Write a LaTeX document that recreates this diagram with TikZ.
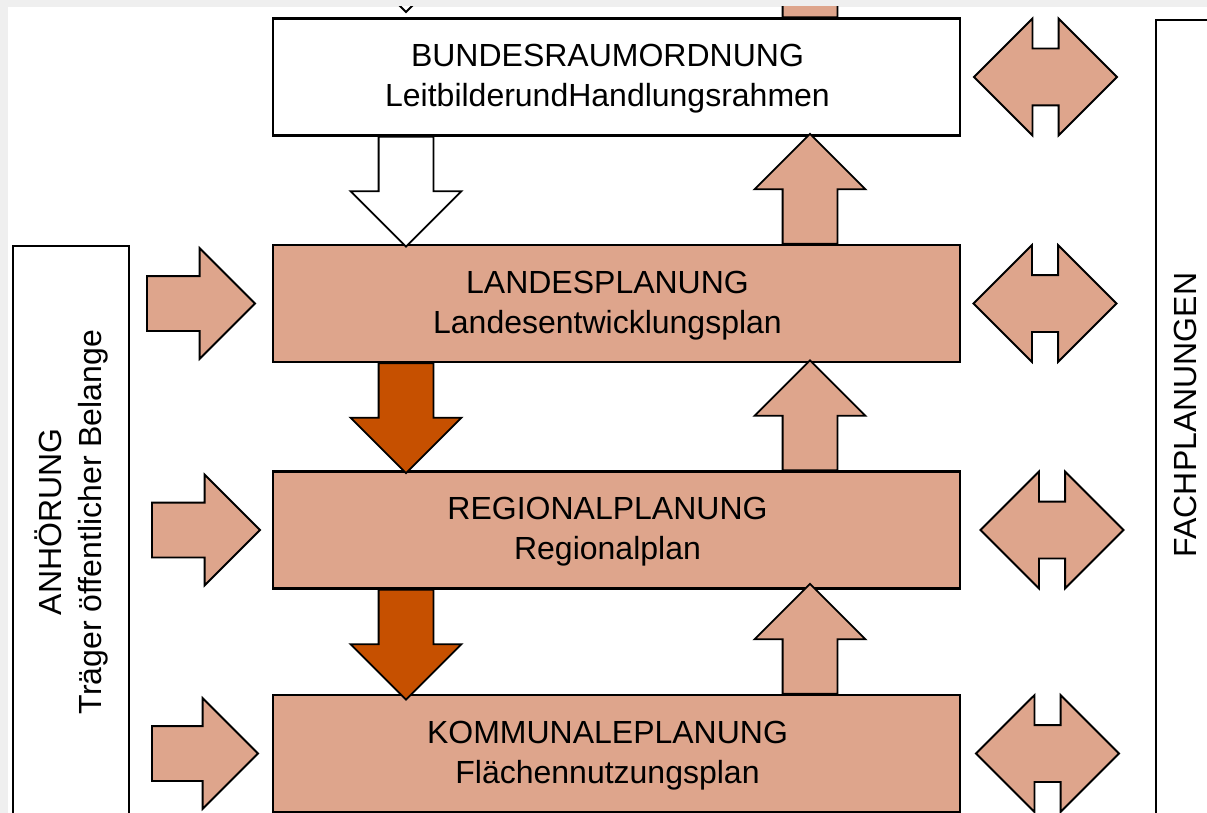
\documentclass[tikz,border=0pt]{standalone}
\usepackage{fontspec}
\setmainfont{Liberation Sans}
\usetikzlibrary{shapes.arrows}

\definecolor{lachs}{HTML}{DEA58C}
\definecolor{rost}{HTML}{C65000}
\definecolor{grau}{HTML}{EFEFEF}

\tikzset{
    schrift/.style={font=\fontsize{32pt}{40pt}\selectfont},
    ebene/.style={draw, line width=2.4pt, fill=lachs,
        minimum width=687pt, minimum height=117pt, inner sep=0pt},
    titel/.style={schrift, align=center, inner sep=0pt},
    rahmen/.style={draw, line width=2pt, fill=white, inner sep=0pt},
    pfeil/.style={single arrow, draw, line width=1.8pt, fill=lachs, inner xsep=0pt,
        inner ysep=26.5pt, outer sep=0pt, single arrow head extend=28pt,
        minimum height=110pt},
    doppelpfeil/.style={double arrow, draw, line width=1.8pt, fill=lachs, inner xsep=0pt,
        inner ysep=27.5pt, outer sep=0pt, double arrow head extend=30pt,
        minimum height=143pt}
}

\begin{document}
\begin{tikzpicture}[x=1pt, y=1pt]
    \useasboundingbox (0,0) rectangle (1207,-813);
    \fill[grau] (0,0) rectangle (1207,-813);
    \fill[white] (8,-7) rectangle (1207,-813);

    \begin{scope}
        \clip (8,-7) rectangle (1207,-813);

        \node[ebene, fill=white] (bund) at (616.5,-77) {};
        \node[ebene] (land) at (616.5,-303.5) {};
        \node[ebene] (regio) at (616.5,-530) {};
        \node[ebene] (komm) at (616.5,-753.5) {};

        \node[titel] (bundtext) at ([xshift=-9pt, yshift=-2pt]bund.center) {BUNDESRAUMORDNUNG\\LeitbilderundHandlungsrahmen};
        \node[titel] (landtext) at ([xshift=-9pt, yshift=-2pt]land.center) {LANDESPLANUNG\\Landesentwicklungsplan};
        \node[titel] (regiotext) at ([xshift=-9pt, yshift=-2pt]regio.center) {REGIONALPLANUNG\\Regionalplan};
        \node[titel] (kommtext) at ([xshift=-9pt, yshift=-2pt]komm.center) {KOMMUNALEPLANUNG\\Flächennutzungsplan};

        \node[rahmen, anchor=north west, minimum width=116pt, minimum height=620pt] (anh) at (12,-245) {};
        \node[titel, rotate=90] (anhtext) at (71,-522) {ANHÖRUNG\\Träger öffentlicher Belange};

        \node[rahmen, anchor=north west, minimum width=100pt, minimum height=850pt] (fach) at (1155,-19) {};
        \node[schrift, rotate=90] (fachtext) at (1185,-415) {FACHPLANUNGEN};

        \node[pfeil, fill=white, rotate=-90, anchor=tip] (oben) at (406,-12) {};
        \node[pfeil, fill=white, rotate=-90, anchor=tail] (runter1) at (406,0 |- bund.south) {};
        \node[pfeil, fill=rost, rotate=-90, anchor=tail] (runter2) at (406,0 |- land.south) {};
        \node[pfeil, fill=rost, rotate=-90, anchor=tail] (runter3) at (406,0 |- regio.south) {};

        \node[pfeil, rotate=90, anchor=tail] (hoch0) at (810,0 |- bund.north) {};
        \node[pfeil, rotate=90, anchor=tail] (hoch1) at (810,0 |- land.north) {};
        \node[pfeil, rotate=90, anchor=tail] (hoch2) at (810,0 |- regio.north) {};
        \node[pfeil, rotate=90, anchor=tail] (hoch3) at (810,0 |- komm.north) {};

        \node[pfeil, minimum height=108pt, anchor=tip] (rein1) at (255,0 |- land.west) {};
        \node[pfeil, minimum height=108pt, anchor=tip] (rein2) at (260,0 |- regio.west) {};
        \node[pfeil, minimum height=106pt, anchor=tip] (rein3) at (258,0 |- komm.west) {};

        \node[doppelpfeil] (abgl0) at (1045.5,0 |- bund.east) {};
        \node[doppelpfeil] (abgl1) at (1045,0 |- land.east) {};
        \node[doppelpfeil] (abgl2) at (1052,0 |- regio.east) {};
        \node[doppelpfeil] (abgl3) at (1047.5,0 |- komm.east) {};
    \end{scope}
\end{tikzpicture}
\end{document}
